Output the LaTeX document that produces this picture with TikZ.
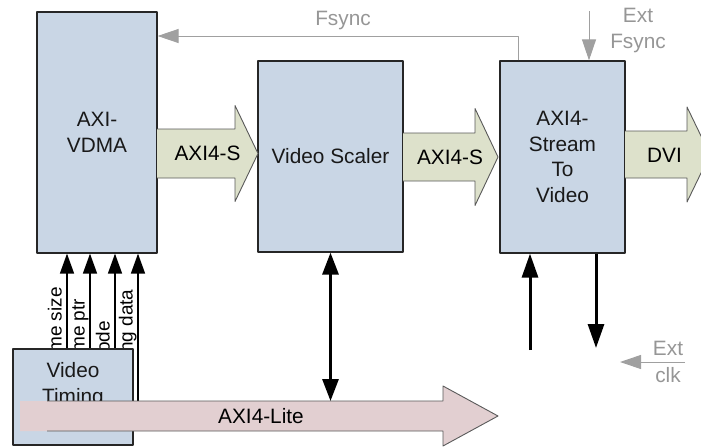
\documentclass[tikz,border=0pt]{standalone}
\usepackage{fontspec}
\setmainfont{Liberation Sans}
\usetikzlibrary{arrows.meta}
\definecolor{boxblue}{RGB}{201,214,229}
\definecolor{busgreen}{RGB}{221,225,203}
\definecolor{buspink}{RGB}{226,207,209}
\definecolor{sigcol}{RGB}{160,160,160}
\definecolor{txtgray}{RGB}{150,150,150}
\tikzset{
  block/.style={draw=black!85, line width=1.2pt, fill=boxblue, inner sep=0pt, align=center, text=black!90},
  bus/.style={draw=black!65, line width=0.9pt},
  ctl/.style={line width=1.5pt, -{Triangle[length=20pt,width=14pt]}},
  thickctl/.style={line width=3pt, -{Triangle[length=24pt,width=16pt]}},
  bictl/.style={line width=3pt, {Triangle[length=22pt,width=16pt]}-{Triangle[length=22pt,width=16pt]}},
  sig/.style={draw=sigcol, line width=1pt, -{Triangle[length=21pt,width=14pt]}},
  sidelbl/.style={rotate=90, anchor=base west, inner sep=0pt, font=\fontsize{19}{22}\selectfont},
  graylbl/.style={text=txtgray, align=center}
}
% bus arrow: colour, x0, head base, tip, y centre, body half, head half
\newcommand{\busarrow}[7]{%
  \filldraw[bus, fill=#1] (#2,#5-#6) -- (#3,#5-#6) -- (#3,#5-#7) -- (#4,#5)
    -- (#3,#5+#7) -- (#3,#5+#6) -- (#2,#5+#6);}
\begin{document}
\begin{tikzpicture}[x=1pt, y=-1pt, font=\fontsize{20.8}{25.5}\selectfont, line join=round]
	\useasboundingbox (0,0) rectangle (701,447);
	% blocks
	\node[block, minimum width=120pt, minimum height=241pt] (vdma) at (97,132.5) {AXI-\\VDMA};
	\node[block, minimum width=145pt, minimum height=191pt] (scaler) at (330.5,156.5) {Video Scaler};
	\node[block, minimum width=125pt, minimum height=192pt] (s2v) at (562.5,157) {AXI4-\\Stream\\To\\Video};
	% streams
	\busarrow{busgreen}{157}{235}{258}{153.5}{24.5}{48}
	\node (axis1) at (207.5,153.5) {AXI4-S};
	\busarrow{busgreen}{403}{475}{498}{157}{24}{48.5}
	\node (axis2) at (450,157) {AXI4-S};
	\busarrow{busgreen}{625}{687}{710}{154.5}{23.5}{47.5}
	\node (dvi) at (664.5,155) {DVI};
	% timing signals
	\coordinate (litetop) at (0,401);
	\foreach \x/\t [count=\i] in {67/me size,90/me ptr,115/ode,138/ng data}{
		\coordinate (c\i) at (\x,0);
		\node[sidelbl] (lbl\i) at (\x-5.5,353) {\t};
	}
	\foreach \i in {1,2,3}
	\draw[ctl] (c\i |- 0,349) -- (c\i |- vdma.south);
	\draw[ctl] (c4 |- litetop) -- (c4 |- vdma.south);
	\node[block, minimum width=120pt, minimum height=96pt] (vtc) at (73,397) {};
	\node[text=black!90, align=center] (vtctxt) at (73,385) {Video\\Timing};
	% AXI4-Lite
	\fill[buspink] (20,401) -- (443,401) -- (443,386) -- (498,416) -- (443,446) -- (443,431) -- (20,431) -- cycle;
	\draw[bus] (47,401) -- (443,401) -- (443,386) -- (498,416) -- (443,446) -- (443,431) -- (47,431);
	\node (lite) at (261,416) {AXI4-Lite};
	\draw[bictl] (scaler.south) -- (scaler.south |- litetop);
	% video out side
	\coordinate (sin) at (530,350);
	\coordinate (sout) at (596,348);
	\draw[thickctl] (sin) -- (sin |- s2v.south);
	\draw[thickctl] (sout |- s2v.south) -- (sout);
	% sync and clock
	\coordinate (fsc) at (518,36);
	\draw[sig] (fsc |- s2v.north) -- (fsc) -- (fsc -| vdma.east);
	\node[graylbl] (fsync) at (343,21) {Fsync};
	\coordinate (efs) at (589,11);
	\draw[sig] (efs) -- (efs |- s2v.north);
	\node[graylbl] (extfs) at (638,30.5) {Ext\\Fsync};
	\coordinate (clkin) at (685,362);
	\coordinate (clkend) at (620,362);
	\draw[sig] (clkin) -- (clkend);
	\node[graylbl, font=\fontsize{20.8}{27}\selectfont] (extclk) at (668,361.5) {Ext\\clk};
\end{tikzpicture}
\end{document}
